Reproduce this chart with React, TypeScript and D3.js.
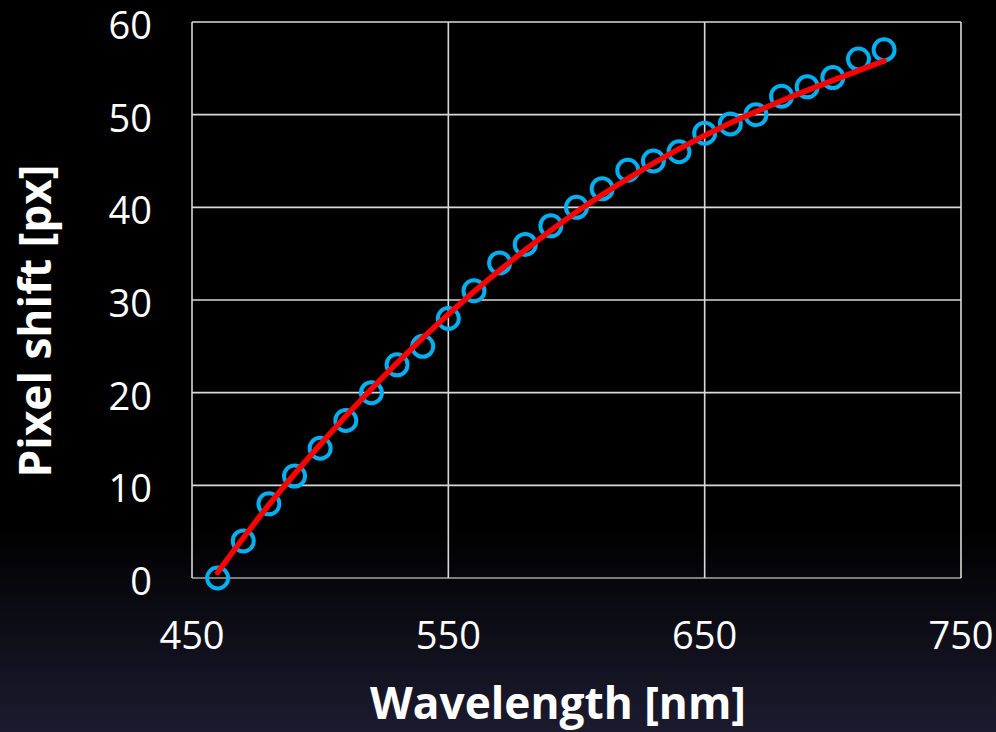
import React from 'react';
import * as d3 from 'd3';

// measured points: wavelength [nm] vs pixel shift [px]
const wavelengths = [460, 470, 480, 490, 500, 510, 520, 530, 540, 550, 560, 570, 580, 590,
  600, 610, 620, 630, 640, 650, 660, 670, 680, 690, 700, 710, 720];
const shifts = [0, 4, 8, 11, 14, 17, 20, 23, 25, 28, 31, 34, 36, 38,
  40, 42, 44, 45, 46, 48, 49, 50, 52, 53, 54, 56, 57];

// fitted curve
const fitWavelengths = [460, 480, 500, 520, 540, 560, 580, 600, 620, 640, 660, 680, 700, 720];
const fitShifts = [0.6, 7.9, 14.4, 20.4, 25.9, 30.9, 35.4, 39.5, 43.1, 46.3, 49.1, 51.5, 53.7, 55.8];

const xTicks = [450, 550, 650, 750];
const yTicks = [0, 10, 20, 30, 40, 50, 60];

const W = 996, H = 732;
const left = 192, right = 961, top = 22, bottom = 578;
const gridColor = '#d9d9d9';
const font = '"Open Sans", sans-serif';

export default function App() {
  const x = d3.scaleLinear().domain([450, 750]).range([left, right]);
  const y = d3.scaleLinear().domain([0, 60]).range([bottom, top]);

  const fitLine = d3.line<number>()
    .x((d, i) => x(fitWavelengths[i]))
    .y(d => y(d))
    .curve(d3.curveMonotoneX);

  return (
    <div style={{position: 'fixed', left: 0, top: 0, width: W, height: H}}>
      <svg width={W} height={H} style={{display: 'block'}}>
        <defs>
          <linearGradient id="bg" x1="0" y1="0" x2="0" y2="1">
            <stop offset="0" stopColor="#000000" />
            <stop offset="0.72" stopColor="#000000" />
            <stop offset="1" stopColor="#1c1b2f" />
          </linearGradient>
        </defs>
        <rect x={0} y={0} width={W} height={H} fill="url(#bg)" />

        {/* grid */}
        {yTicks.map(t => (
          <line key={'gy' + t} x1={left} x2={right} y1={y(t)} y2={y(t)}
            stroke={t === 0 ? '#a6a6a6' : gridColor} strokeWidth={1.6} />
        ))}
        {xTicks.map(t => (
          <line key={'gx' + t} x1={x(t)} x2={x(t)} y1={top} y2={bottom}
            stroke={gridColor} strokeWidth={1.6} />
        ))}

        {/* tick labels */}
        {yTicks.map(t => (
          <text key={'ty' + t} x={152} y={y(t) + 2} textAnchor="end" dominantBaseline="central"
            fill="#ffffff" fontFamily={font} fontSize={38}>{t}</text>
        ))}
        {xTicks.map(t => (
          <text key={'tx' + t} x={x(t)} y={634} textAnchor="middle" dominantBaseline="central"
            fill="#ffffff" fontFamily={font} fontSize={38}>{t}</text>
        ))}

        {/* data */}
        {wavelengths.map((w, i) => (
          <circle key={'p' + w} cx={x(w)} cy={y(shifts[i])} r={10.5}
            fill="none" stroke="#00b0f0" strokeWidth={4} />
        ))}
        <path d={fitLine(fitShifts) || ''} fill="none" stroke="#ff0000" strokeWidth={5.5}
          strokeLinecap="round" />

        {/* axis titles */}
        <text x={558} y={719} textAnchor="middle" fill="#ffffff" fontFamily={font}
          fontWeight="bold" fontSize={45} textLength={376} lengthAdjust="spacingAndGlyphs">
          Wavelength [nm]
        </text>
        <text transform={`translate(51,${321}) rotate(-90)`} textAnchor="middle" fill="#ffffff"
          fontFamily={font} fontWeight="bold" fontSize={45} textLength={313}
          lengthAdjust="spacingAndGlyphs">
          Pixel shift [px]
        </text>
      </svg>
    </div>
  );
}
